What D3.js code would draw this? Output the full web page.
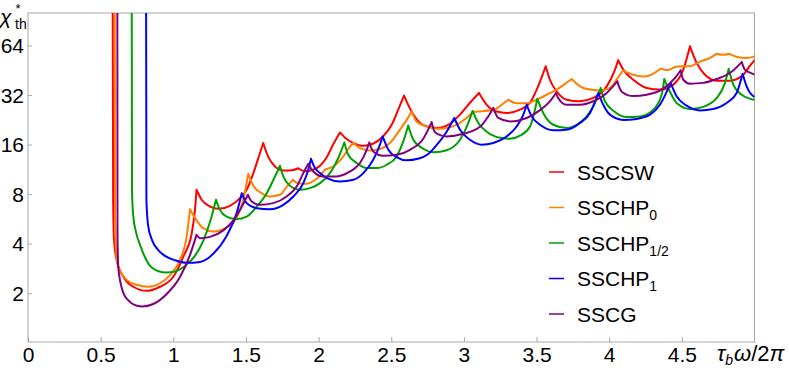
<!DOCTYPE html>
<html>
<head>
<meta charset="utf-8">
<script src="https://cdn.jsdelivr.net/npm/d3@7"></script>
<style>
body { margin: 0; background: #fff; }
text { font-family: "Liberation Sans", Arial, sans-serif; fill: #000; }
</style>
</head>
<body>
<svg id="chart" width="789" height="370"></svg>
<script>
// tick values and legend labels
const xTicks = [0, 0.5, 1, 1.5, 2, 2.5, 3, 3.5, 4, 4.5];
const yTicks = [2, 4, 8, 16, 32, 64];
const seriesNames = ["SSCSW", "SSCHP", "SSCHP", "SSCHP", "SSCG"];
const seriesSubs = ["", "0", "1/2", "1", ""];

// [tau_b*omega/2pi, chi*_th]
const sscsw = [
  [0.583, 100], [0.586, 7.39], [0.592, 4.22], [0.610, 3.19], [0.656, 2.52], [0.725, 2.19], [0.817, 2.07], [0.908, 2.19], [1.000, 2.52], [1.069, 3.34], [1.127, 4.63], [1.149, 6.42], [1.160, 8.50],
  [1.195, 7.39], [1.253, 6.72], [1.310, 6.51], [1.390, 6.79], [1.459, 7.56], [1.505, 8.50], [1.551, 10.73], [1.597, 14.26], [1.619, 16.34],
  [1.652, 13.55], [1.700, 11.78], [1.757, 11.14], [1.817, 11.17], [1.860, 11.48], [1.906, 11.01], [1.961, 11.24], [2.010, 11.89], [2.058, 13.49], [2.099, 15.96], [2.147, 18.95],
  [2.182, 17.6], [2.237, 16.4], [2.308, 15.73], [2.374, 16.18], [2.443, 17.92], [2.503, 21.1], [2.548, 26.05], [2.588, 31.7],
  [2.652, 24.3], [2.720, 20.97], [2.813, 20.16], [2.904, 21.4], [2.973, 24.3], [3.042, 28.7], [3.104, 32.9],
  [3.157, 27.9], [3.226, 25.4], [3.294, 24.9], [3.386, 26.05], [3.455, 28.7], [3.501, 34.5], [3.546, 43.5], [3.563, 47.8],
  [3.592, 39.6], [3.638, 33.7], [3.707, 29.96], [3.799, 29.3], [3.890, 30.7], [3.983, 36.1], [4.040, 45.6], [4.062, 52.0],
  [4.097, 45.6], [4.166, 39.6], [4.258, 35.3], [4.349, 34.5], [4.441, 37.0], [4.510, 45.6], [4.556, 63.2],
  [4.602, 50.1], [4.659, 42.5], [4.740, 39.1], [4.831, 39.1], [4.923, 42.5], [4.969, 48.2], [5.0, 52.0]
];
const sschp0 = [
  [0.597, 100], [0.599, 5.58], [0.606, 3.67], [0.621, 2.90], [0.679, 2.41], [0.748, 2.25], [0.828, 2.19], [0.908, 2.30], [0.977, 2.58], [1.046, 3.19], [1.092, 4.42], [1.115, 6.48],
  [1.149, 5.74], [1.206, 4.97], [1.275, 4.74], [1.367, 5.02], [1.436, 5.74], [1.482, 7.39], [1.516, 10.63],
  [1.551, 8.99], [1.608, 8.11], [1.665, 7.74], [1.734, 7.92], [1.780, 8.86], [1.822, 9.77],
  [1.858, 9.31], [1.913, 9.24], [1.968, 9.64], [2.016, 10.48], [2.044, 11.24], [2.072, 11.48], [2.113, 11.97], [2.170, 13.55], [2.216, 15.52], [2.239, 16.34],
  [2.285, 15.23], [2.354, 14.73], [2.422, 15.02], [2.491, 16.34], [2.560, 19.69], [2.606, 22.58], [2.641, 25.4],
  [2.675, 22.0], [2.744, 20.6], [2.822, 19.96], [2.904, 20.4], [2.973, 21.7], [3.028, 23.6], [3.069, 25.3], [3.124, 25.5], [3.214, 26.2], [3.269, 28.3], [3.305, 29.96],
  [3.363, 28.5], [3.432, 28.5], [3.501, 29.96], [3.570, 32.1], [3.638, 34.5], [3.689, 37.0], [3.742, 40.0],
  [3.799, 36.1], [3.868, 34.5], [3.935, 34.1], [4.005, 35.3], [4.060, 40.8], [4.095, 45.0],
  [4.166, 42.5], [4.246, 41.4], [4.315, 43.7], [4.356, 46.3], [4.398, 45.3], [4.467, 47.6], [4.556, 47.9], [4.625, 51.0], [4.694, 53.7], [4.740, 57.0], [4.783, 56.1], [4.824, 57.0], [4.879, 54.5], [4.948, 53.7], [4.996, 54.7]
];
const sschpHalf = [
  [0.714, 100], [0.716, 8.15], [0.725, 5.84], [0.743, 4.72], [0.771, 3.93], [0.840, 2.93], [0.895, 2.73], [0.950, 2.67], [1.012, 2.71], [1.080, 2.93], [1.149, 3.37], [1.206, 4.16], [1.253, 5.43], [1.294, 7.39],
  [1.321, 6.42], [1.367, 5.84], [1.436, 5.64], [1.505, 5.84], [1.574, 6.72], [1.643, 8.11], [1.700, 10.24], [1.734, 11.89],
  [1.757, 10.24], [1.803, 8.99], [1.872, 8.50], [1.941, 8.70], [2.010, 9.33], [2.078, 10.73], [2.135, 13.24], [2.177, 16.47],
  [2.204, 13.87], [2.262, 12.35], [2.331, 11.51], [2.400, 11.51], [2.469, 12.06], [2.537, 13.55], [2.583, 16.71], [2.617, 20.9],
  [2.652, 17.1], [2.720, 15.08], [2.794, 14.36], [2.881, 14.77], [2.973, 17.1], [3.030, 21.6], [3.060, 25.6],
  [3.099, 21.6], [3.157, 19.15], [3.248, 17.6], [3.317, 17.35], [3.386, 18.1], [3.455, 20.6], [3.489, 26.05], [3.505, 30.3],
  [3.546, 24.9], [3.615, 21.1], [3.707, 20.16], [3.776, 21.1], [3.845, 23.7], [3.902, 28.6], [3.941, 35.3],
  [3.971, 29.3], [4.035, 25.4], [4.120, 23.5], [4.212, 23.7], [4.303, 26.05], [4.361, 32.1], [4.379, 40.0],
  [4.418, 33.5], [4.464, 28.6], [4.556, 26.3], [4.647, 27.1], [4.740, 30.7], [4.797, 37.9], [4.822, 46.1],
  [4.854, 37.0], [4.912, 32.1], [4.955, 30.6], [4.996, 29.96]
];
const sschp1 = [
  [0.813, 100], [0.815, 7.39], [0.826, 5.21], [0.853, 4.22], [0.895, 3.67], [0.943, 3.37], [1.012, 3.17], [1.092, 3.06], [1.184, 3.10], [1.275, 3.47], [1.367, 4.46], [1.436, 6.13], [1.471, 8.09],
  [1.505, 7.05], [1.574, 6.57], [1.665, 6.47], [1.757, 6.89], [1.826, 7.74], [1.895, 9.33], [1.929, 11.24], [1.948, 13.11],
  [1.975, 11.51], [2.010, 10.73], [2.056, 10.0], [2.147, 9.55], [2.239, 9.77], [2.308, 10.73], [2.376, 12.93], [2.422, 15.96], [2.441, 17.92],
  [2.480, 14.87], [2.537, 13.43], [2.606, 12.84], [2.684, 13.11], [2.753, 13.97], [2.815, 15.96], [2.881, 19.15], [2.934, 23.2],
  [2.973, 19.69], [3.042, 17.1], [3.122, 15.96], [3.202, 16.34], [3.294, 17.92], [3.363, 20.6], [3.409, 24.3], [3.432, 27.9],
  [3.467, 23.7], [3.524, 21.1], [3.615, 19.55], [3.707, 19.69], [3.799, 21.6], [3.868, 24.9], [3.925, 32.9],
  [3.959, 27.9], [4.005, 24.3], [4.097, 22.58], [4.189, 22.9], [4.281, 24.3], [4.349, 27.9], [4.396, 33.5], [4.422, 38.0],
  [4.464, 31.4], [4.533, 27.55], [4.625, 25.8], [4.716, 26.3], [4.808, 28.6], [4.877, 32.9], [4.918, 43.1],
  [4.946, 36.1], [4.969, 33.0], [4.996, 31.3]
];
const sscg = [
  [0.615, 100], [0.616, 4.65], [0.621, 2.90], [0.637, 2.31], [0.656, 2.01], [0.688, 1.82], [0.725, 1.71], [0.785, 1.66], [0.862, 1.72], [0.955, 1.98], [1.046, 2.51], [1.115, 3.42], [1.160, 4.53],
  [1.184, 4.32], [1.253, 4.40], [1.344, 4.82], [1.413, 5.54], [1.471, 6.70], [1.514, 7.92],
  [1.540, 7.21], [1.597, 6.89], [1.688, 7.05], [1.780, 7.74], [1.849, 8.90], [1.895, 10.73], [1.929, 12.23],
  [1.963, 10.98], [2.032, 10.24], [2.124, 10.24], [2.216, 10.98], [2.285, 12.35], [2.331, 14.87], [2.349, 16.47],
  [2.376, 14.53], [2.445, 13.68], [2.537, 13.87], [2.629, 14.87], [2.720, 17.35], [2.778, 21.9],
  [2.801, 19.0], [2.881, 17.92], [2.996, 18.6], [3.111, 20.5], [3.166, 23.6], [3.202, 26.7],
  [3.237, 23.2], [3.317, 22.1], [3.432, 23.2], [3.524, 25.9], [3.592, 29.3], [3.634, 32.9],
  [3.649, 30.7], [3.707, 27.9], [3.799, 27.9], [3.890, 29.3], [3.983, 32.9], [4.019, 35.5], [4.056, 38.7],
  [4.086, 33.5], [4.166, 31.5], [4.258, 32.1], [4.372, 35.0], [4.453, 40.6], [4.492, 45.2],
  [4.510, 39.6], [4.556, 37.5], [4.647, 37.9], [4.740, 40.0], [4.831, 43.5], [4.912, 50.7],
  [4.934, 45.6], [4.969, 43.7], [4.996, 42.8]
];

const allSeries = [sscsw, sschp0, sschpHalf, sschp1, sscg];
const seriesColors = ["#ff0000", "#ff8000", "#00a000", "#0000ff", "#800080"];

var svg = d3.select("#chart");
const width = +svg.attr("width");
const height = +svg.attr("height");

// frame of the plot
const plotLeft = 28;
const plotRight = 754.5;
const plotTop = 13;
const plotBottom = 342;
const frameColor = "#a8a8a8";

const xScale = d3.scaleLinear().domain([0, 5]).range([plotLeft, plotRight]);
const yScale = d3.scaleLog().domain([1, 100]).range([342.8, 13.5]);

svg.append("defs").append("clipPath")
    .attr("id", "plotClip")
    .append("rect")
    .attr("x", plotLeft)
    .attr("y", plotTop)
    .attr("width", plotRight - plotLeft)
    .attr("height", plotBottom - plotTop);

svg.append("rect")
    .attr("x", plotLeft)
    .attr("y", plotTop)
    .attr("width", plotRight - plotLeft)
    .attr("height", plotBottom - plotTop)
    .style("fill", "none")
    .style("stroke", frameColor);

const plotAxes = () => {
    //x-axis, ticks point into the frame
    var bottomAxis = d3.axisBottom(xScale)
        .tickValues(xTicks)
        .tickSize(-5)
        .tickPadding(5)
        .tickFormat(d => String(d));
    var gx = svg.append("g")
        .attr("transform", "translate(0," + plotBottom + ")")
        .call(bottomAxis);

    //y-axis, log scale
    var leftAxis = d3.axisLeft(yScale)
        .tickValues(yTicks)
        .tickSize(-4)
        .tickPadding(4)
        .tickFormat(d3.format("d"));
    var gy = svg.append("g")
        .attr("transform", "translate(" + plotLeft + ",0)")
        .call(leftAxis);

    [gx, gy].forEach(g => {
        g.select(".domain").remove();
        g.selectAll(".tick line").style("stroke", frameColor);
        g.selectAll(".tick text")
            .style("font-size", "21px")
            .style("font-family", "'Liberation Sans', Arial, sans-serif")
            .style("fill", "#000");
    });
    gy.selectAll(".tick text").attr("dy", "0.34em");
}

// break a series at its cusps so each arc is smoothed on its own
const splitAtCusps = (points) => {
    let arcs = [];
    let current = [points[0]];
    for (let i = 1; i < points.length; i++) {
        current.push(points[i]);
        let isPeak = i < points.length - 1 && points[i][1] > points[i - 1][1] && points[i][1] > points[i + 1][1];
        if (isPeak) {
            arcs.push(current);
            current = [points[i]];
        }
    }
    arcs.push(current);
    return arcs;
};

const line = d3.line()
    .x(d => xScale(d[0]))
    .y(d => yScale(d[1]))
    .curve(d3.curveMonotoneX);

const curves = svg.append("g").attr("clip-path", "url(#plotClip)");
allSeries.forEach((points, i) => {
    curves.append("path")
        .attr("d", splitAtCusps(points).map(arc => line(arc)).join(""))
        .style("fill", "none")
        .style("stroke", seriesColors[i])
        .style("stroke-width", 2)
        .style("stroke-linejoin", "round")
        .style("stroke-linecap", "round");
});

plotAxes();

// axis labels
var yLabel = svg.append("text").attr("x", 0).attr("y", 24).style("font-size", "21px");
yLabel.append("tspan").style("font-style", "italic").text("\u03c7");
yLabel.append("tspan").attr("x", 15).attr("y", 29).style("font-size", "14px").text("th");
svg.append("text").attr("x", 15.5).attr("y", 12.5).style("font-size", "13px").text("*");

var xLabel = svg.append("text").attr("x", 717).attr("y", 361).style("font-size", "22px");
xLabel.append("tspan").style("font-style", "italic").text("\u03c4");
xLabel.append("tspan").attr("dy", 4).style("font-style", "italic").style("font-size", "14px").text("b");
xLabel.append("tspan").attr("dy", -4).attr("dx", 1).style("font-style", "italic").text("\u03c9");
xLabel.append("tspan").text("/2");
xLabel.append("tspan").style("font-style", "italic").text("\u03c0");

// legend
const legendRowY = (i) => 172 + i * 35.5;
seriesNames.forEach((name, i) => {
    svg.append("line")
        .attr("x1", 549)
        .attr("x2", 564)
        .attr("y1", legendRowY(i))
        .attr("y2", legendRowY(i))
        .style("stroke", seriesColors[i])
        .style("stroke-width", 1.5);
    var t = svg.append("text")
        .attr("x", 577)
        .attr("y", legendRowY(i) + 7.5)
        .style("font-size", "21px")
        .text(name);
    if (seriesSubs[i]) {
        t.append("tspan").attr("dy", 5).style("font-size", "14px").text(seriesSubs[i]);
    }
});
</script>
</body>
</html>
